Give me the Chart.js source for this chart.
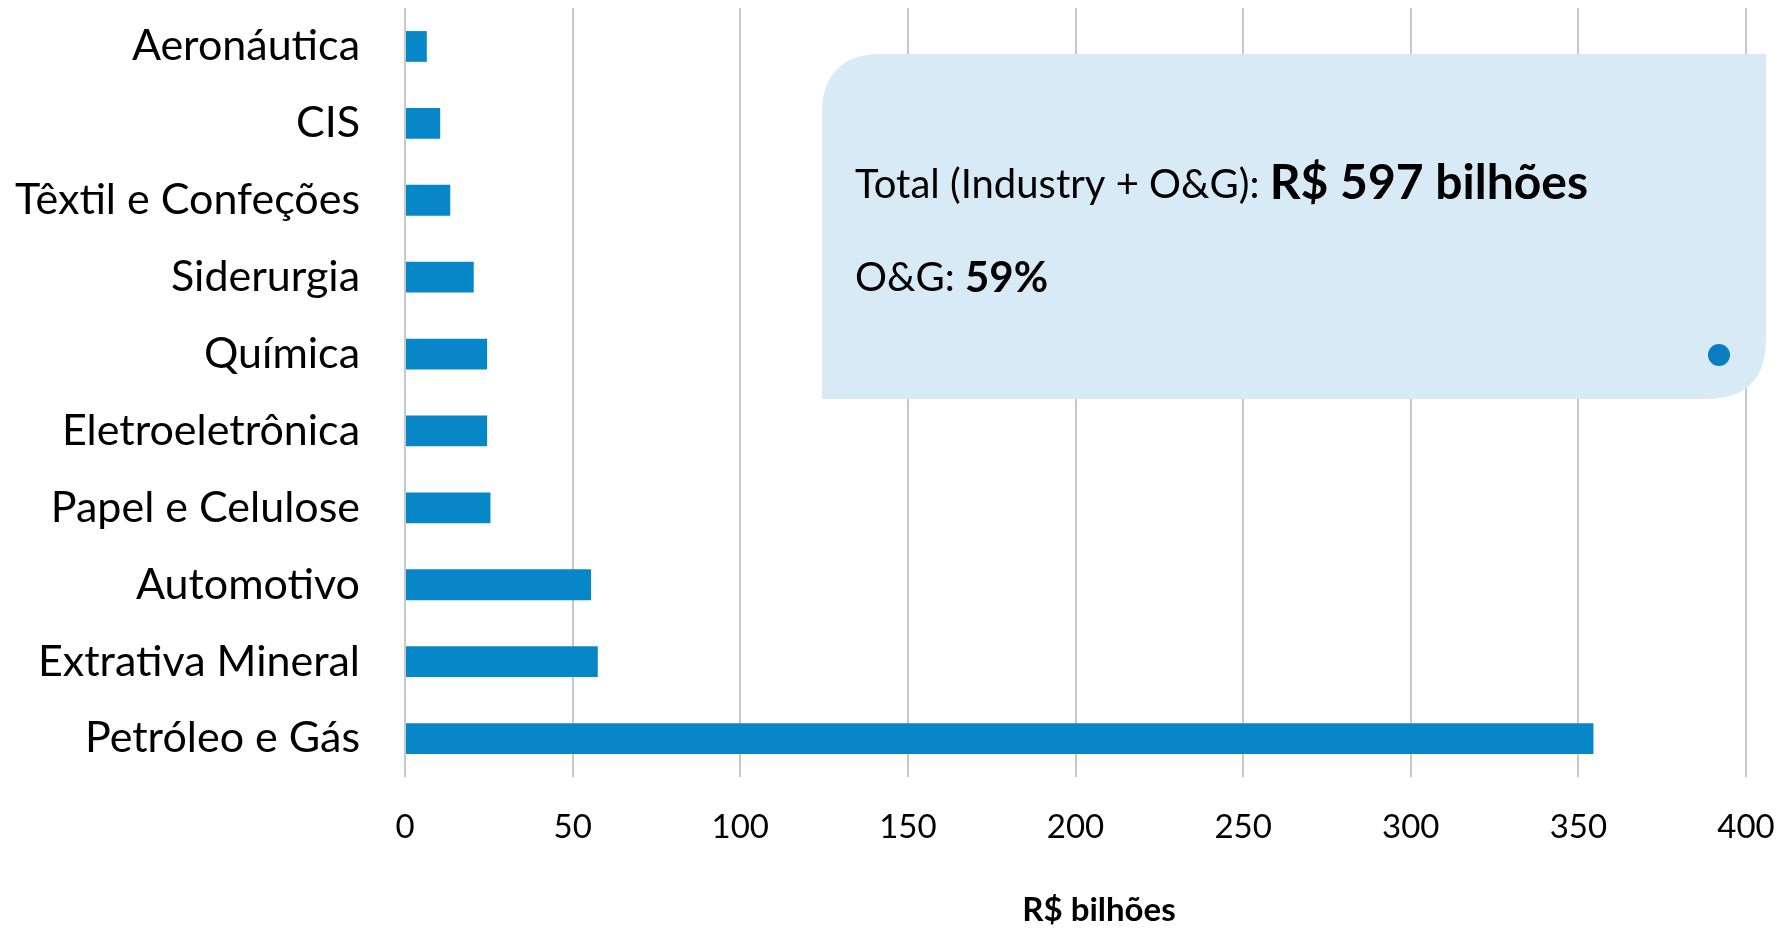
<!DOCTYPE html>
<html>
<head>
<meta charset="utf-8">
<script src="https://cdn.jsdelivr.net/npm/chart.js@4"></script>
<style>
  html, body { margin: 0; padding: 0; background: #fff; }
  #wrap { width: 1791px; height: 930px; }
</style>
</head>
<body>
<div id="wrap"><canvas id="setorChart" width="1791" height="930"></canvas></div>
<script>
const categories = ['Aeronáutica', 'CIS', 'Têxtil e Confeções', 'Siderurgia', 'Química',
  'Eletroeletrônica', 'Papel e Celulose', 'Automotivo', 'Extrativa Mineral', 'Petróleo e Gás'];
const values = [6.5, 10.5, 13.5, 20.5, 24.5, 24.5, 25.5, 55.5, 57.5, 354.5];
const xTicks = [0, 50, 100, 150, 200, 250, 300, 350, 400];
const axisTitle = 'R$ bilhões';
const calloutLine1 = ['Total (Industry + O&G): ', 'R$ 597 bilhões'];
const calloutLine2 = ['O&G: ', '59%'];

// caixa de destaque + titulo do eixo
const calloutPlugin = {
  id: 'callout',
  afterDraw(chart) {
    const ctx = chart.ctx;
    ctx.save();
    // caixa azul clara, cantos arredondados (sup. esq. e inf. dir.)
    const x0 = 822, y0 = 54, x1 = 1766, y1 = 399, r = 60;
    ctx.fillStyle = '#D7EAF6';
    ctx.beginPath();
    ctx.moveTo(x0 + r, y0);
    ctx.lineTo(x1, y0);
    ctx.lineTo(x1, y1 - r);
    ctx.quadraticCurveTo(x1, y1, x1 - r, y1);
    ctx.lineTo(x0, y1);
    ctx.lineTo(x0, y0 + r);
    ctx.quadraticCurveTo(x0, y0, x0 + r, y0);
    ctx.closePath();
    ctx.fill();

    ctx.fillStyle = '#000';
    ctx.textBaseline = 'alphabetic';
    ctx.textAlign = 'left';
    ctx.font = '40px Lato';
    ctx.fillText(calloutLine1[0], 855, 198);
    let w = ctx.measureText(calloutLine1[0]).width;
    ctx.font = 'bold 48px Lato';
    ctx.fillText(calloutLine1[1], 855 + w, 199);

    ctx.font = '40px Lato';
    ctx.fillText(calloutLine2[0], 855, 291);
    w = ctx.measureText(calloutLine2[0]).width;
    ctx.font = 'bold 42px Lato';
    ctx.fillText(calloutLine2[1], 855 + w, 292);

    // ponto azul
    ctx.fillStyle = '#0A7DC2';
    ctx.beginPath();
    ctx.arc(1719, 355, 11, 0, Math.PI * 2);
    ctx.fill();

    // titulo do eixo x
    ctx.fillStyle = '#000';
    ctx.font = 'bold 33px Lato';
    ctx.textAlign = 'center';
    ctx.fillText(axisTitle, chart.scales.x.getPixelForValue(207), 921);
    ctx.restore();
  }
};

new Chart(document.getElementById('setorChart'), {
  type: 'bar',
  data: {
    labels: categories,
    datasets: [
      {
        data: values,
        backgroundColor: '#0787C8',
        borderWidth: 0,
        barPercentage: 0.8,
        categoryPercentage: 0.5,
      },
    ],
  },
  options: {
    indexAxis: 'y',
    responsive: false,
    animation: false,
    layout: { padding: { top: 8, right: 45, left: 0, bottom: 0 } },
    scales: {
      x: {
        min: 0,
        max: 400,
        afterFit(scale) {
          scale.height = 153;
          scale.paddingLeft = 0;
          scale.paddingRight = 0;
        },
        afterBuildTicks(scale) { scale.ticks = xTicks.map(v => ({ value: v })); },
        grid: { color: '#C8C8C8', lineWidth: 2, drawTicks: false },
        border: { display: false },
        ticks: {
          color: '#000',
          padding: 31,
          font: { family: 'Lato', size: 33 },
        },
      },
      y: {
        afterFit(scale) {
          scale.width = 405;
          scale.paddingTop = 0;
          scale.paddingBottom = 0;
        },
        grid: { display: false, drawTicks: false },
        border: { display: false },
        ticks: {
          color: '#000',
          padding: 45,
          font: { family: 'Lato', size: 43 },
        },
      },
    },
    plugins: {
      legend: { display: false },
      tooltip: { enabled: false },
    },
  },
  plugins: [calloutPlugin],
});
</script>
</body>
</html>
